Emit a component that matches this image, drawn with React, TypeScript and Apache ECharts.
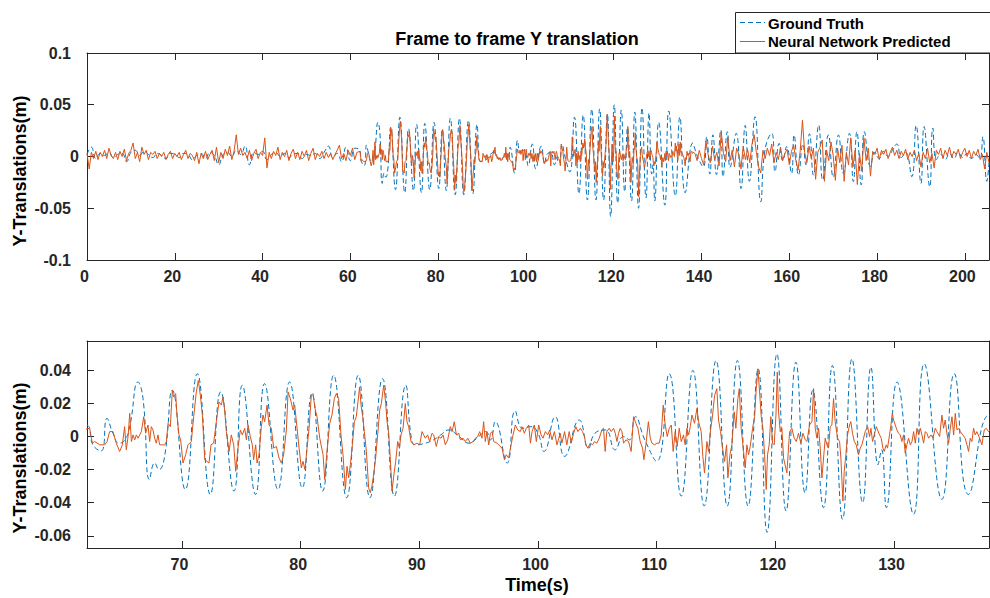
import React, { useEffect, useRef } from "react";
import * as echarts from "echarts";

// ---------- tick values ----------
const topXTicks = [0, 20, 40, 60, 80, 100, 120, 140, 160, 180, 200];
const topYTicks = [-0.1, -0.05, 0, 0.05, 0.1];
const bottomXTicks = [70, 80, 90, 100, 110, 120, 130];
const bottomYTicks = [-0.06, -0.04, -0.02, 0, 0.02, 0.04];

const chartTitle = "Frame to frame Y translation";
const yAxisName = "Y-Translations(m)";
const xAxisName = "Time(s)";
const seriesNames = ["Ground Truth", "Neural Network Predicted"];

// ---------- Neural network predicted (orange) ----------
// 0 s .. 61.5 s, every 0.5 s
const predictedEarlyStart = 0;
const predictedEarlyStep = 0.5;
const predictedEarly = [
  0.003, -0.012, 0.004, -0.002, 0.005, -0.003, 0.004, 0.0, 0.006, -0.002,
  0.008, 0.001, -0.002, 0.004, -0.003, 0.005, 0.0, 0.007, -0.004, 0.003,
  0.006, 0.013, -0.002, 0.004, -0.005, 0.009, 0.002, 0.006, -0.003, 0.004,
  0.002, 0.005, -0.002, 0.003, 0.0, 0.004, -0.003, 0.002, 0.005, -0.002,
  0.003, 0.0, 0.004, -0.003, 0.002, 0.006, -0.002, 0.003, 0.001, -0.004,
  0.004, -0.007, 0.003, -0.002, 0.005, -0.003, 0.002, 0.006, -0.004, 0.009,
  -0.006, 0.004, -0.002, 0.007, 0.001, 0.01, -0.003, 0.005, 0.021, 0.002,
  0.008, 0.001, 0.004, -0.002, 0.006, -0.004, 0.003, 0.007, -0.002, 0.004,
  0.001, 0.018, -0.011, 0.004, -0.002, 0.005, 0.001, 0.009, -0.003, 0.004,
  0.0, 0.006, -0.004, 0.003, 0.007, -0.002, 0.004, -0.003, 0.005, 0.0,
  0.006, -0.004, 0.003, 0.008, -0.003, 0.003, 0.0, 0.005, -0.002, 0.004,
  -0.001, 0.003, -0.003, 0.002, 0.006, 0.011, -0.002, 0.003, -0.004, 0.006,
  0.001, 0.008, -0.003, 0.004,
];

// 62 s .. 138 s, [time, value]
const predictedMid: [number, number][] = [
  [62.22, 0.005], [62.45, -0.004], [62.65, -0.003], [63.07, -0.005], [63.49, -0.005], [63.69, -0.003],
  [63.91, 0.003], [64.19, 0.003], [64.47, -0.004], [64.75, -0.009], [64.98, -0.005], [65.17, 0.006],
  [65.31, -0.008], [65.46, 0.0], [65.6, 0.014], [65.74, -0.003], [65.88, 0.001], [66.02, -0.002],
  [66.16, 0.001], [66.3, -0.001], [66.58, 0.003], [66.78, 0.012], [66.94, 0.002], [67.14, 0.007],
  [67.28, -0.003], [67.42, 0.006], [67.56, 0.004], [67.7, -0.001], [67.84, -0.004], [67.98, 0.001],
  [68.12, -0.005], [68.35, -0.005], [68.54, -0.005], [68.69, -0.003], [68.83, 0.008], [69.02, 0.006],
  [69.19, 0.028], [69.3, 0.024], [69.47, 0.026], [69.58, 0.013], [69.75, 0.001], [69.89, -0.002],
  [70.09, -0.016], [70.31, -0.011], [70.51, -0.005], [70.79, -0.003], [70.99, 0.012], [71.21, 0.027],
  [71.38, 0.034], [71.55, 0.025], [71.72, 0.013], [71.92, -0.014], [72.11, -0.015], [72.28, -0.016],
  [72.45, -0.005], [72.67, -0.004], [72.9, 0.009], [73.12, 0.021], [73.32, 0.019], [73.46, 0.024],
  [73.6, 0.016], [73.74, 0.003], [73.97, -0.009], [74.16, 0.001], [74.36, -0.005], [74.53, -0.021],
  [74.72, -0.007], [74.92, 0.004], [75.09, 0.001], [75.29, 0.005], [75.43, -0.002], [75.57, 0.007],
  [75.76, 0.0], [75.93, -0.005], [76.04, -0.014], [76.21, -0.005], [76.33, -0.016], [76.49, -0.011],
  [76.69, 0.006], [76.83, 0.013], [76.97, 0.009], [77.17, 0.019], [77.34, 0.007], [77.53, 0.005],
  [77.73, -0.007], [77.96, -0.006], [78.18, -0.013], [78.38, -0.016], [78.57, -0.011], [78.8, 0.004],
  [78.94, 0.027], [79.13, 0.023], [79.36, 0.016], [79.5, 0.019], [79.7, 0.005], [79.87, -0.007],
  [80.06, -0.019], [80.2, -0.015], [80.37, -0.02], [80.54, -0.007], [80.71, 0.005], [80.9, 0.025],
  [81.04, 0.026], [81.21, 0.017], [81.38, 0.012], [81.61, -0.001], [81.89, -0.011], [82.03, -0.026],
  [82.22, -0.009], [82.45, 0.008], [82.64, 0.013], [82.84, 0.023], [83.01, 0.026], [83.2, 0.023],
  [83.4, 0.001], [83.57, -0.011], [83.77, -0.032], [83.91, -0.018], [84.05, -0.025], [84.19, -0.017],
  [84.36, -0.005], [84.53, 0.009], [84.69, 0.012], [84.83, 0.021], [84.97, 0.03], [85.09, 0.019],
  [85.23, 0.012], [85.37, 0.003], [85.54, -0.009], [85.73, -0.031], [85.87, -0.034], [86.01, -0.03],
  [86.15, -0.023], [86.32, -0.013], [86.49, 0.001], [86.66, 0.016], [86.8, 0.02], [87.0, 0.031],
  [87.17, 0.02], [87.28, 0.009], [87.42, 0.002], [87.56, -0.014], [87.7, -0.033], [87.84, -0.024],
  [88.01, -0.015], [88.18, -0.003], [88.32, -0.007], [88.46, 0.001], [88.63, 0.005], [88.82, 0.02],
  [88.96, 0.009], [89.1, 0.006], [89.3, -0.003], [89.53, -0.005], [89.81, -0.004], [90.03, -0.005],
  [90.23, 0.003], [90.37, 0.001], [90.51, -0.001], [90.7, 0.001], [90.87, -0.003], [91.07, 0.002],
  [91.21, 0.001], [91.43, -0.006], [91.63, 0.0], [91.83, -0.001], [92.0, 0.001], [92.19, -0.005],
  [92.39, -0.002], [92.61, 0.006], [92.76, 0.003], [92.95, 0.009], [93.12, 0.001], [93.32, 0.002],
  [93.46, -0.002], [93.68, -0.001], [93.88, -0.003], [94.08, -0.001], [94.3, -0.004], [94.53, -0.003],
  [94.72, -0.001], [94.92, 0.0], [95.09, 0.003], [95.28, -0.001], [95.42, 0.009], [95.56, -0.003],
  [95.7, 0.003], [95.85, -0.005], [95.99, 0.002], [96.13, 0.003], [96.27, -0.003], [96.55, -0.004],
  [96.97, -0.007], [97.17, -0.014], [97.33, -0.011], [97.53, -0.013], [97.73, -0.005], [97.9, 0.001],
  [98.09, 0.007], [98.29, 0.004], [98.51, 0.003], [98.65, 0.006], [98.85, 0.002], [99.02, 0.005],
  [99.22, 0.007], [99.36, -0.004], [99.5, 0.003], [99.69, 0.007], [99.86, -0.003], [100.06, 0.007],
  [100.26, 0.001], [100.42, -0.001], [100.62, 0.003], [100.82, 0.001], [100.99, 0.004], [101.18, -0.002],
  [101.38, 0.003], [101.6, -0.005], [101.87, 0.002], [102.01, -0.004], [102.24, 0.003], [102.43, -0.005],
  [102.63, 0.003], [102.8, -0.004], [103.0, 0.002], [103.19, 0.006], [103.36, 0.003], [103.56, 0.005],
  [103.75, 0.003], [103.92, 0.0], [104.03, -0.005], [104.2, -0.007], [104.4, -0.004], [104.6, -0.005],
  [104.76, -0.003], [104.96, -0.004], [105.16, -0.001], [105.38, 0.004], [105.52, 0.005], [105.66, -0.009],
  [105.8, 0.003], [106.0, 0.005], [106.17, 0.003], [106.37, 0.005], [106.51, 0.002], [106.65, -0.003],
  [106.79, 0.002], [106.93, 0.005], [107.07, 0.003], [107.21, -0.004], [107.41, -0.002], [107.63, -0.003],
  [107.85, -0.009], [108.05, 0.012], [108.25, 0.008], [108.42, 0.005], [108.61, -0.003], [108.81, -0.007],
  [108.92, -0.014], [109.09, -0.005], [109.3, 0.009], [109.46, -0.001], [109.6, -0.004], [109.82, -0.005],
  [110.02, -0.004], [110.21, -0.004], [110.38, 0.001], [110.55, 0.019], [110.72, 0.007], [110.89, 0.0],
  [111.06, 0.005], [111.23, 0.007], [111.39, -0.009], [111.56, 0.003], [111.73, -0.006], [111.9, 0.005],
  [112.07, -0.003], [112.26, 0.001], [112.4, -0.005], [112.55, 0.005], [112.69, 0.001], [112.83, 0.006],
  [112.97, 0.013], [113.19, 0.008], [113.39, 0.017], [113.53, 0.009], [113.75, 0.003], [113.89, -0.012],
  [114.03, -0.022], [114.23, -0.003], [114.37, -0.009], [114.54, 0.004], [114.71, 0.013], [114.88, 0.025],
  [115.07, 0.029], [115.21, 0.01], [115.38, 0.003], [115.55, -0.007], [115.72, -0.015], [115.89, -0.005],
  [116.0, -0.025], [116.17, -0.011], [116.34, -0.005], [116.53, 0.015], [116.67, 0.005], [116.84, 0.023],
  [116.96, 0.029], [117.12, 0.005], [117.32, -0.009], [117.46, -0.019], [117.6, -0.005], [117.74, -0.011],
  [117.88, -0.006], [118.08, 0.005], [118.25, 0.012], [118.39, 0.029], [118.53, 0.041], [118.67, 0.027],
  [118.81, 0.012], [118.95, 0.005], [119.09, -0.011], [119.23, -0.032], [119.34, -0.011], [119.48, -0.005],
  [119.62, 0.012], [119.76, -0.004], [119.9, -0.005], [120.05, 0.013], [120.16, 0.039], [120.27, 0.015],
  [120.41, 0.003], [120.55, 0.005], [120.69, -0.013], [120.97, -0.022], [121.2, 0.003], [121.39, 0.005],
  [121.59, -0.001], [121.76, -0.003], [121.95, 0.002], [122.15, -0.004], [122.32, 0.002], [122.52, -0.002],
  [122.66, -0.003], [122.88, 0.007], [123.08, 0.009], [123.22, 0.029], [123.36, 0.005], [123.5, -0.001],
  [123.64, 0.005], [123.78, -0.007], [123.92, -0.025], [124.06, -0.013], [124.2, -0.001], [124.34, -0.005],
  [124.48, -0.007], [124.62, 0.006], [124.76, 0.007], [124.9, 0.023], [125.04, 0.009], [125.24, -0.001],
  [125.41, -0.003], [125.52, -0.013], [125.69, -0.039], [125.8, -0.021], [125.94, -0.011], [126.08, 0.001],
  [126.25, 0.007], [126.36, 0.009], [126.5, 0.002], [126.65, -0.003], [126.81, -0.005], [127.01, -0.011],
  [127.15, -0.007], [127.29, -0.005], [127.43, -0.001], [127.57, 0.003], [127.77, 0.006], [127.94, 0.0],
  [128.05, 0.005], [128.19, -0.003], [128.33, 0.001], [128.5, 0.006], [128.61, 0.004], [128.78, 0.001],
  [128.92, -0.001], [129.06, -0.007], [129.17, -0.009], [129.34, -0.005], [129.45, -0.007], [129.62, 0.001],
  [129.74, 0.007], [129.85, 0.014], [129.96, 0.01], [130.1, 0.007], [130.24, 0.004], [130.38, 0.002],
  [130.52, 0.001], [130.66, -0.003], [130.8, 0.001], [130.94, -0.01], [131.08, -0.005], [131.22, -0.001],
  [131.37, -0.005], [131.51, -0.003], [131.65, 0.003], [131.79, -0.004], [131.93, 0.005], [132.07, 0.001],
  [132.21, 0.005], [132.35, 0.001], [132.49, -0.004], [132.63, 0.003], [132.77, 0.002], [132.91, -0.001],
  [133.11, 0.001], [133.28, -0.001], [133.47, 0.005], [133.61, 0.003], [133.84, 0.0], [134.03, 0.013],
  [134.17, 0.005], [134.31, 0.01], [134.45, 0.002], [134.6, -0.004], [134.74, 0.005], [134.88, 0.012],
  [135.02, 0.001], [135.16, 0.014], [135.3, 0.004], [135.44, 0.005], [135.58, 0.003], [135.8, 0.001],
  [135.99, -0.001], [136.14, -0.005], [136.28, -0.009], [136.42, -0.001], [136.56, -0.003], [136.7, 0.005],
  [136.84, 0.001], [136.98, 0.003], [137.21, -0.001], [137.4, -0.005], [137.6, 0.004], [137.77, 0.005],
  [137.96, 0.003], [138.1, 0.004],
];

// 138.5 s .. 205.5 s, every 0.5 s
const predictedLateStart = 138.5;
const predictedLateStep = 0.5;
const predictedLate = [
  0.003, -0.004, 0.006, -0.002, -0.008, 0.015, 0.002, -0.006, 0.01, -0.003,
  0.004, -0.009, 0.024, 0.003, -0.005, 0.019, -0.004, 0.006, -0.01, 0.008,
  0.002, -0.012, 0.01, -0.003, 0.007, -0.006, 0.012, 0.021, 0.004, -0.01,
  -0.016, 0.006, -0.002, 0.008, 0.001, 0.012, -0.006, 0.004, -0.003, 0.009,
  -0.004, 0.003, 0.007, -0.008, 0.005, 0.011, -0.004, -0.013, 0.006, 0.035,
  0.004, -0.006, 0.01, -0.002, 0.008, -0.022, 0.004, 0.009, 0.016, -0.024,
  0.006, -0.004, 0.014, 0.001, -0.023, 0.008, -0.006, 0.011, -0.024, 0.004,
  -0.008, 0.018, -0.01, 0.006, -0.027, 0.003, -0.014, 0.018, -0.004, 0.008,
  -0.019, 0.005, 0.002, 0.008, -0.003, 0.006, 0.002, 0.007, -0.002, 0.004,
  0.009, 0.001, 0.006, -0.002, 0.005, 0.001, 0.007, -0.003, 0.004, 0.0,
  0.006, -0.004, 0.003, -0.01, 0.004, -0.002, 0.008, -0.006, 0.003, -0.011,
  0.006, 0.002, 0.008, -0.002, 0.006, 0.001, 0.009, -0.001, 0.005, 0.002,
  0.007, -0.002, 0.004, 0.008, 0.0, 0.006, -0.002, 0.005, 0.001, 0.007,
  -0.003, 0.002, -0.012, 0.004, -0.006,
];

// ---------- Ground truth (blue dashed) ----------
// 0 s .. 61 s, every 1 s
const truthEarlyStart = 0;
const truthEarlyStep = 1;
const truthEarly = [
  0.002, 0.009, -0.002, 0.003, 0.001, 0.004, -0.001, 0.002, 0.003, -0.005,
  0.004, 0.006, 0.001, 0.005, 0.002, -0.001, 0.003, 0.001, -0.002, 0.003,
  0.002, -0.001, 0.003, 0.002, -0.003, 0.001, 0.003, -0.002, 0.004, 0.001,
  -0.008, 0.002, 0.004, 0.0, 0.006, 0.002, 0.01, -0.008, 0.004, 0.002,
  0.005, -0.003, 0.002, 0.004, 0.0, 0.003, -0.001, 0.002, 0.003, -0.002,
  0.002, 0.001, 0.003, -0.002, 0.004, 0.01, -0.001, 0.003, -0.005, 0.009,
  -0.004, 0.008,
];

// turning points 62 s .. 138 s
const truthMid: [number, number][] = [
  [62.0, 0.007], [62.5, -0.005], [63.2, -0.0087], [63.68, 0.011], [64.19, 0.002], [64.7, -0.004],
  [65.2, -0.002], [65.6, 0.006], [66.3, 0.033], [66.72, 0.023], [67.27, -0.026], [67.7, -0.016],
  [68.06, -0.02], [68.54, -0.012], [69.19, 0.028], [70.28, -0.032], [71.29, 0.038], [72.39, -0.035],
  [73.26, 0.027], [74.38, -0.033], [75.08, 0.031], [76.2, -0.035], [76.96, 0.032], [78.09, -0.032],
  [79.07, 0.033], [80.14, -0.031], [80.95, 0.026], [81.85, -0.033], [82.78, 0.037], [83.88, -0.037],
  [84.85, 0.037], [85.84, -0.037], [86.9, 0.035], [87.9, -0.036], [88.85, 0.031], [89.35, -0.002],
  [89.7, -0.005], [90.5, -0.004], [91.2, -0.002], [91.8, 0.001], [92.5, 0.004], [93.2, 0.001],
  [94.2, -0.004], [95.0, 0.0], [95.6, 0.003], [96.0, -0.002], [96.4, 0.009], [97.4, -0.016],
  [98.08, 0.0155], [98.7, 0.005], [99.4, 0.006], [100.0, 0.002], [100.5, -0.009], [101.45, 0.012],
  [102.24, -0.012], [103.48, 0.01], [104.26, -0.007], [104.8, 0.002], [105.67, 0.004], [106.5, -0.008],
  [107.2, 0.0], [107.7, -0.002], [108.2, 0.012], [109.0, -0.002], [110.0, -0.015], [111.05, 0.038],
  [112.07, -0.036], [113.05, 0.04], [114.0, -0.042], [115.0, 0.046], [115.95, -0.042], [116.8, 0.046],
  [117.7, -0.042], [118.55, 0.041], [119.3, -0.058], [120.13, 0.05], [120.9, -0.045], [121.73, 0.045],
  [122.5, -0.034], [123.15, 0.028], [124.05, -0.043], [124.8, 0.043], [125.66, -0.05], [126.45, 0.047],
  [127.35, -0.04], [128.05, 0.042], [128.65, -0.017], [128.95, -0.008], [129.35, -0.043], [130.25, 0.033],
  [131.64, -0.047], [132.54, 0.044], [134.03, -0.038], [135.07, 0.038], [136.27, -0.035], [138.0, 0.013],
];

// turning points 138 s .. 205.5 s
const truthLate: [number, number][] = [
  [138.6, 0.006], [139.3, -0.002], [140.4, -0.01], [141.2, 0.019], [141.9, -0.017], [142.6, 0.021],
  [143.4, -0.0175], [144.4, 0.0256], [144.9, -0.0195], [145.9, 0.024], [146.5, -0.0105], [147.9, 0.0224],
  [149.0, -0.031], [149.95, 0.03], [150.9, -0.024], [152.2, 0.0385], [153.5, -0.0437], [154.5, 0.0075],
  [156.0, 0.0224], [156.75, -0.0147], [157.7, 0.0127], [158.5, -0.004], [159.4, 0.0095], [160.5, -0.0164],
  [161.1, 0.0208], [162.1, -0.018], [163.1, 0.012], [163.8, -0.008], [164.6, 0.022], [165.5, -0.018],
  [166.7, 0.0304], [167.6, -0.0227], [168.9, 0.0208], [170.0, -0.02], [171.2, 0.0208], [172.3, -0.0164],
  [173.7, 0.0224], [174.6, -0.0243], [175.4, 0.024], [176.4, -0.0275], [177.1, 0.024], [178.5, -0.0095],
  [179.5, 0.004], [180.5, -0.002], [181.5, 0.005], [182.5, 0.0], [183.5, 0.006], [184.5, 0.012],
  [185.5, -0.001], [186.5, 0.004], [187.9, -0.0195], [188.9, 0.03], [190.0, -0.026], [190.7, 0.029],
  [192.0, -0.0293], [192.7, 0.0275], [193.5, -0.003], [194.5, 0.002], [195.5, -0.003], [196.5, 0.003],
  [197.5, -0.002], [198.5, 0.004], [199.5, -0.001], [200.5, 0.003], [201.5, -0.002], [202.5, 0.002],
  [203.4, -0.002], [204.1, 0.019], [205.0, -0.024], [205.5, -0.006],
];

// ---------- build series data ----------
const regular = (start: number, step: number, vals: number[]): [number, number][] =>
  vals.map((v, i) => [start + i * step, v]);

const predictedData: [number, number][] = [
  ...regular(predictedEarlyStart, predictedEarlyStep, predictedEarly),
  ...predictedMid,
  ...regular(predictedLateStart, predictedLateStep, predictedLate),
];
const truthData: [number, number][] = [
  ...regular(truthEarlyStart, truthEarlyStep, truthEarly),
  ...truthMid,
  ...truthLate,
];

const FONT = "'Liberation Sans', Arial, Helvetica, sans-serif";
const AXIS = "#262626";
const BLUE = "#0072BD";
const ORANGE = "#D95319";

const tickLabel = { fontFamily: FONT, fontWeight: "bold" as const, fontSize: 16, color: AXIS };

function xAxisPair(grid: number, min: number, max: number, ticks: number[]) {
  const common = {
    type: "value" as const,
    gridIndex: grid,
    min,
    max,
    splitLine: { show: false },
    axisLine: { show: true, onZero: false, lineStyle: { color: AXIS, width: 1 } },
    axisTick: { show: true, inside: true, length: 7, customValues: ticks, lineStyle: { color: AXIS, width: 1 } },
  };
  return [
    {
      ...common,
      position: "bottom",
      axisLabel: { show: true, customValues: ticks, margin: 8, padding: [0, 5, 0, 0], ...tickLabel },
    },
    { ...common, position: "top", axisLabel: { show: false } },
  ];
}

function yAxisPair(grid: number, min: number, max: number, ticks: number[]) {
  const common = {
    type: "value" as const,
    gridIndex: grid,
    min,
    max,
    splitLine: { show: false },
    axisLine: { show: true, onZero: false, lineStyle: { color: AXIS, width: 1 } },
    axisTick: { show: true, inside: true, length: 7, customValues: ticks, lineStyle: { color: AXIS, width: 1 } },
  };
  return [
    {
      ...common,
      position: "left",
      axisLabel: {
        show: true,
        customValues: ticks,
        margin: 8,
        ...tickLabel,
        formatter: (v: number) => (v === 0 ? "{z|0}" : "{n|" + String(v) + "}"),
        rich: {
          n: { ...tickLabel, padding: [0, 8, 0, 0] },
          z: { ...tickLabel },
        },
      },
    },
    { ...common, position: "right", axisLabel: { show: false } },
  ];
}

function linePair(xi: number, yi: number) {
  return [
    {
      name: seriesNames[0],
      type: "line",
      xAxisIndex: xi,
      yAxisIndex: yi,
      data: truthData,
      symbol: "none",
      showSymbol: false,
      smooth: true,
      clip: true,
      silent: true,
      lineStyle: { color: BLUE, width: 1, type: [5, 3] },
      z: 2,
    },
    {
      name: seriesNames[1],
      type: "line",
      xAxisIndex: xi,
      yAxisIndex: yi,
      data: predictedData,
      symbol: "none",
      showSymbol: false,
      clip: true,
      silent: true,
      lineStyle: { color: ORANGE, width: 1 },
      z: 3,
    },
  ];
}

export default function App() {
  const ref = useRef<HTMLDivElement>(null);
  useEffect(() => {
    if (!ref.current) return;
    const chart = echarts.init(ref.current, undefined, { renderer: "svg" });
    const option: any = {
      animation: false,
      backgroundColor: "#ffffff",
      grid: [
        { left: 87, top: 53, width: 902, height: 207, containLabel: false },
        { left: 87, top: 341, width: 902, height: 207, containLabel: false },
      ],
      xAxis: [...xAxisPair(0, 0, 205.5, topXTicks), ...xAxisPair(1, 62, 138, bottomXTicks)],
      yAxis: [...yAxisPair(0, -0.1, 0.1, topYTicks), ...yAxisPair(1, -0.0674, 0.0578, bottomYTicks)],
      series: [...linePair(0, 0), ...linePair(2, 2)],
      graphic: [
        {
          type: "text",
          x: 517,
          y: 39,
          z: 50,
          style: { text: chartTitle, fontFamily: FONT, fontWeight: "bold", fontSize: 18, fill: "#000", align: "center", verticalAlign: "middle" },
        },
        {
          type: "text",
          x: 20,
          y: 171,
          rotation: Math.PI / 2,
          z: 50,
          style: { text: yAxisName, fontFamily: FONT, fontWeight: "bold", fontSize: 18, fill: "#000", align: "center", verticalAlign: "middle" },
        },
        {
          type: "text",
          x: 20,
          y: 458,
          rotation: Math.PI / 2,
          z: 50,
          style: { text: yAxisName, fontFamily: FONT, fontWeight: "bold", fontSize: 18, fill: "#000", align: "center", verticalAlign: "middle" },
        },
        {
          type: "text",
          x: 537,
          y: 585,
          z: 50,
          style: { text: xAxisName, fontFamily: FONT, fontWeight: "bold", fontSize: 18, fill: "#000", align: "center", verticalAlign: "middle" },
        },
        {
          type: "group",
          z: 100,
          children: [
            { type: "rect", z: 100, shape: { x: 735.5, y: 12.5, width: 260, height: 40.5 }, style: { fill: "#fff", stroke: AXIS, lineWidth: 1 } },
            { type: "line", z: 101, shape: { x1: 740, y1: 22.5, x2: 765, y2: 22.5 }, style: { stroke: BLUE, lineWidth: 1, lineDash: [5, 3] } },
            { type: "line", z: 101, shape: { x1: 740, y1: 41.5, x2: 765, y2: 41.5 }, style: { stroke: ORANGE, lineWidth: 1 } },
            {
              type: "text", z: 101, x: 768, y: 23,
              style: { text: seriesNames[0], fontFamily: FONT, fontWeight: "bold", fontSize: 15, fill: "#000", align: "left", verticalAlign: "middle" },
            },
            {
              type: "text", z: 101, x: 768, y: 41.5,
              style: { text: seriesNames[1], fontFamily: FONT, fontWeight: "bold", fontSize: 15, fill: "#000", align: "left", verticalAlign: "middle" },
            },
          ],
        },
      ],
    };
    chart.setOption(option);
    return () => chart.dispose();
  }, []);
  return (
    <div
      ref={ref}
      style={{ position: "fixed", left: 0, top: 0, width: 990, height: 598, background: "#fff" }}
    />
  );
}
